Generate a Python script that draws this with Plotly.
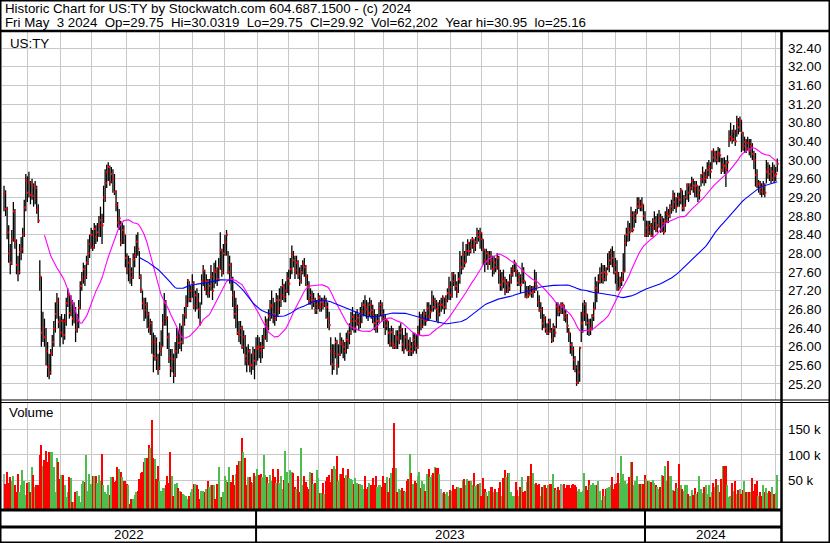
import numpy as np
import pandas as pd
import plotly.graph_objects as go

# ---------------- data ----------------
closes = [
29.30, 28.95, 28.45, 28.00, 27.80, 28.30, 28.90, 28.25, 27.75, 27.60,
28.03, 28.10, 28.40, 28.98, 29.56, 29.30, 29.51, 29.25, 29.45, 29.23,
29.40, 28.93, 28.70, 27.50, 26.30, 26.40, 26.20, 25.90, 25.56, 25.45,
25.86, 26.10, 26.38, 26.70, 26.98, 26.53, 26.30, 26.55, 26.25, 26.54,
26.93, 27.10, 26.72, 26.95, 26.60, 26.80, 26.36, 26.55, 26.83, 27.30,
27.44, 27.66, 27.50, 27.80, 28.00, 28.20, 28.40, 28.13, 28.52, 28.35,
28.45, 28.60, 28.71, 28.60, 29.20, 29.50, 29.74, 29.85, 29.53, 29.70,
29.60, 29.32, 29.04, 28.66, 28.75, 28.23, 28.50, 28.40, 27.90, 27.67,
27.80, 27.60, 27.48, 27.87, 27.95, 28.25, 28.10, 27.50, 27.22, 26.93,
26.78, 26.90, 26.70, 26.40, 26.50, 26.10, 25.80, 26.10, 25.75, 25.54,
25.90, 26.00, 26.50, 26.94, 26.60, 26.20, 25.75, 25.54, 25.73, 25.40,
25.90, 26.20, 26.08, 26.30, 26.10, 26.50, 26.69, 26.90, 27.42, 27.02,
27.20, 27.35, 26.87, 27.10, 27.00, 26.80, 26.51, 27.40, 27.63, 27.24,
27.40, 27.15, 27.30, 27.50, 27.20, 27.65, 27.60, 27.45, 27.70, 28.07,
27.60, 28.00, 28.24, 28.40, 27.60, 27.75, 27.45, 27.10, 26.70, 26.85,
26.30, 26.25, 26.40, 26.00, 26.20, 25.80, 25.70, 25.90, 25.62, 25.60,
25.85, 25.70, 25.95, 26.00, 25.99, 25.92, 26.00, 26.20, 26.50, 26.40,
26.66, 26.86, 26.89, 26.70, 26.60, 27.00, 26.80, 27.00, 27.10, 27.30,
27.07, 27.20, 27.46, 27.35, 27.66, 27.97, 27.85, 27.64, 27.80, 27.55,
27.41, 27.60, 27.77, 27.70, 27.50, 27.30, 27.00, 27.10, 26.95, 27.00,
26.78, 26.90, 27.05, 26.85, 26.95, 26.90, 27.00, 26.85, 26.60, 26.46,
25.90, 25.62, 25.85, 26.10, 25.60, 25.83, 26.10, 26.05, 26.00, 25.90,
26.15, 26.12, 26.30, 26.55, 26.64, 26.40, 26.55, 26.62, 26.50, 26.70,
26.75, 26.90, 26.86, 26.80, 26.72, 26.90, 26.78, 26.70, 26.50, 26.40,
26.55, 26.82, 26.90, 26.70, 26.60, 26.45, 26.55, 26.30, 26.06, 26.31,
26.05, 26.00, 26.20, 26.15, 26.30, 26.38, 26.05, 25.95, 26.20, 26.05,
25.90, 26.00, 25.90, 26.15, 26.05, 25.97, 26.30, 26.61, 26.45, 26.60,
26.70, 26.55, 26.82, 26.65, 26.75, 27.00, 26.85, 26.95, 26.80, 26.70,
26.90, 26.90, 27.05, 26.85, 27.00, 27.15, 27.27, 27.10, 27.55, 27.40,
27.30, 27.18, 27.45, 27.83, 27.70, 27.97, 27.79, 28.05, 28.22, 28.05,
28.15, 28.30, 28.15, 28.25, 28.43, 28.35, 28.44, 28.30, 28.08, 27.85,
28.00, 27.80, 27.95, 27.85, 27.66, 27.80, 27.70, 27.90, 27.60, 27.33,
27.45, 27.40, 27.18, 27.35, 27.25, 27.40, 27.55, 27.65, 27.80, 27.60,
27.37, 27.50, 27.32, 27.63, 27.41, 27.07, 27.18, 27.10, 27.25, 27.15,
27.20, 27.40, 27.30, 26.95, 26.78, 26.80, 26.50, 26.60, 26.39, 26.30,
26.52, 26.33, 26.15, 26.40, 26.30, 26.86, 26.80, 26.75, 26.90, 26.90,
26.70, 26.63, 26.45, 26.30, 26.04, 25.95, 25.72, 25.55, 25.23, 25.45,
25.97, 26.50, 26.70, 26.91, 26.70, 26.51, 26.35, 26.40, 26.66, 26.80,
27.26, 27.20, 27.40, 27.50, 27.58, 27.45, 27.60, 27.55, 27.72, 27.85,
28.00, 27.90, 27.75, 27.60, 27.55, 27.25, 27.40, 27.45, 27.60, 28.22,
28.40, 28.53, 28.45, 28.82, 28.50, 28.75, 28.85, 29.00, 29.10, 29.00,
29.05, 28.80, 28.40, 28.55, 28.45, 28.60, 28.37, 28.55, 28.70, 28.50,
28.60, 28.76, 28.50, 28.65, 28.46, 28.70, 28.85, 28.80, 28.93, 29.00,
29.23, 29.10, 29.00, 29.20, 29.15, 29.35, 28.97, 29.04, 29.20, 29.46,
29.30, 29.40, 29.55, 29.45, 29.37, 29.45, 29.25, 29.35, 29.59, 29.70,
29.60, 29.65, 29.79, 29.85, 29.75, 30.18, 30.05, 30.12, 30.00, 30.15,
30.10, 29.79, 29.90, 29.87, 29.80, 29.95, 30.43, 30.50, 30.45, 30.61,
30.40, 30.79, 30.70, 30.85, 30.59, 30.30, 30.39, 30.25, 30.36, 30.20,
30.30, 30.13, 30.00, 29.68, 29.48, 29.50, 29.40, 29.32, 29.45, 29.30,
29.75, 29.80, 29.70, 29.61, 29.75, 29.66, 29.70, 29.92,
]

highs = [
29.45, 29.35, 29.00, 28.60, 28.20, 28.50, 29.10, 28.95, 28.30, 27.95,
28.20, 28.35, 28.55, 29.15, 29.70, 29.65, 29.75, 29.55, 29.60, 29.50,
29.55, 29.45, 29.05, 27.85, 27.50, 26.75, 26.60, 26.40, 26.10, 25.85,
25.95, 26.25, 26.55, 26.95, 27.15, 27.05, 26.65, 26.70, 26.60, 26.70,
27.05, 27.25, 27.15, 27.10, 27.00, 26.95, 26.85, 26.70, 27.00, 27.40,
27.60, 27.80, 27.75, 27.95, 28.30, 28.40, 28.55, 28.50, 28.65, 28.60,
28.65, 28.80, 29.00, 28.85, 29.45, 29.80, 29.90, 29.95, 29.88, 29.85,
29.80, 29.70, 29.35, 29.10, 28.95, 28.70, 28.65, 28.60, 28.40, 28.00,
27.95, 27.90, 27.70, 28.00, 28.15, 28.40, 28.45, 28.05, 27.55, 27.20,
27.05, 27.05, 26.95, 26.75, 26.60, 26.55, 26.30, 26.25, 26.20, 25.85,
26.10, 26.35, 26.70, 27.15, 27.00, 26.65, 26.30, 25.95, 25.95, 25.85,
26.10, 26.40, 26.35, 26.50, 26.45, 26.70, 26.85, 27.10, 27.45, 27.40,
27.30, 27.55, 27.40, 27.20, 27.25, 27.15, 26.95, 27.55, 27.75, 27.65,
27.55, 27.45, 27.45, 27.75, 27.60, 27.80, 27.85, 27.70, 27.90, 28.45,
28.10, 28.20, 28.40, 28.50, 28.05, 27.95, 27.80, 27.50, 27.20, 27.05,
26.90, 26.55, 26.55, 26.45, 26.35, 26.25, 26.00, 26.05, 25.95, 25.85,
26.00, 25.95, 26.20, 26.25, 26.20, 26.10, 26.25, 26.40, 26.65, 26.60,
26.80, 27.00, 27.20, 27.05, 26.95, 27.15, 27.10, 27.25, 27.30, 27.45,
27.35, 27.40, 27.60, 27.65, 27.90, 28.17, 28.05, 27.95, 27.95, 27.85,
27.70, 27.75, 27.85, 27.90, 27.75, 27.55, 27.40, 27.25, 27.20, 27.15,
27.05, 27.00, 27.15, 27.10, 27.05, 27.05, 27.10, 27.05, 26.95, 26.75,
26.20, 26.05, 26.05, 26.20, 26.15, 26.05, 26.30, 26.20, 26.15, 26.10,
26.30, 26.35, 26.50, 26.75, 26.85, 26.70, 26.75, 26.80, 26.70, 26.85,
26.95, 27.00, 27.10, 27.00, 26.95, 27.05, 27.00, 26.90, 26.80, 26.70,
26.70, 26.95, 27.00, 26.95, 26.80, 26.70, 26.60, 26.55, 26.40, 26.45,
26.40, 26.25, 26.35, 26.35, 26.45, 26.50, 26.40, 26.25, 26.40, 26.30,
26.15, 26.20, 26.10, 26.30, 26.30, 26.25, 26.45, 26.75, 26.70, 26.75,
26.80, 26.75, 26.95, 26.95, 26.90, 27.20, 27.10, 27.05, 27.00, 26.95,
27.00, 27.05, 27.10, 27.05, 27.10, 27.25, 27.50, 27.40, 27.60, 27.60,
27.55, 27.40, 27.60, 28.05, 27.95, 28.25, 28.05, 28.20, 28.30, 28.25,
28.30, 28.35, 28.30, 28.35, 28.55, 28.50, 28.55, 28.45, 28.30, 28.10,
28.10, 28.05, 28.05, 28.05, 27.95, 27.95, 27.90, 28.00, 27.95, 27.65,
27.60, 27.65, 27.50, 27.45, 27.40, 27.55, 27.70, 27.75, 27.86, 27.80,
27.65, 27.60, 27.55, 27.80, 27.70, 27.40, 27.30, 27.30, 27.32, 27.30,
27.30, 27.65, 27.60, 27.20, 27.10, 26.95, 26.85, 26.70, 26.65, 26.50,
26.60, 26.60, 26.40, 26.50, 26.45, 26.95, 26.95, 26.90, 26.95, 26.95,
26.90, 26.80, 26.70, 26.40, 26.30, 26.10, 26.00, 25.80, 25.60, 25.70,
26.00, 26.75, 26.94, 27.00, 26.95, 26.70, 26.60, 26.60, 26.70, 26.95,
27.50, 27.40, 27.55, 27.70, 27.79, 27.75, 27.75, 27.70, 28.00, 28.05,
28.10, 28.15, 28.05, 27.90, 27.85, 27.60, 27.50, 27.60, 28.00, 28.40,
28.55, 28.70, 28.65, 29.00, 28.90, 28.90, 28.95, 29.20, 29.20, 29.15,
29.20, 29.05, 28.90, 28.70, 28.70, 28.70, 28.65, 28.75, 28.90, 28.80,
28.85, 28.93, 28.85, 28.80, 28.75, 28.90, 29.00, 28.95, 29.05, 29.15,
29.35, 29.30, 29.20, 29.30, 29.30, 29.40, 29.35, 29.25, 29.35, 29.50,
29.50, 29.50, 29.64, 29.60, 29.55, 29.55, 29.45, 29.45, 29.70, 29.86,
29.75, 29.80, 29.95, 30.00, 29.95, 30.20, 30.25, 30.20, 30.20, 30.28,
30.25, 30.05, 30.05, 30.06, 30.00, 30.10, 30.64, 30.80, 30.65, 30.75,
30.65, 30.95, 30.90, 30.93, 30.86, 30.60, 30.50, 30.45, 30.50, 30.45,
30.45, 30.36, 30.20, 30.15, 29.80, 29.57, 29.55, 29.50, 29.55, 29.50,
30.00, 29.95, 29.90, 29.85, 29.95, 29.90, 29.85, 30.03,
]

lows = [
28.90, 28.80, 28.30, 27.80, 27.55, 27.75, 28.25, 28.10, 27.55, 27.40,
27.55, 27.85, 28.00, 28.35, 28.90, 29.10, 29.20, 29.05, 29.15, 29.00,
29.05, 28.85, 28.65, 27.20, 26.00, 26.10, 26.00, 25.60, 25.35, 25.30,
25.40, 25.80, 26.00, 26.30, 26.60, 26.40, 26.00, 26.20, 26.05, 26.15,
26.45, 26.85, 26.60, 26.65, 26.45, 26.50, 26.10, 26.30, 26.40, 26.80,
27.20, 27.35, 27.30, 27.45, 27.75, 27.90, 28.10, 28.05, 28.10, 28.20,
28.25, 28.35, 28.35, 28.20, 28.65, 29.10, 29.40, 29.55, 29.45, 29.50,
29.30, 29.25, 28.90, 28.55, 28.50, 28.15, 28.20, 28.20, 27.70, 27.55,
27.40, 27.35, 27.30, 27.45, 27.70, 27.90, 27.95, 27.45, 27.15, 26.80,
26.55, 26.60, 26.40, 26.30, 26.25, 25.85, 25.45, 25.70, 25.50, 25.40,
25.50, 25.80, 26.00, 26.45, 26.45, 25.95, 25.65, 25.35, 25.45, 25.22,
25.35, 25.75, 25.85, 25.95, 25.90, 26.05, 26.45, 26.60, 26.85, 26.95,
26.95, 27.05, 26.80, 26.75, 26.80, 26.60, 26.45, 26.90, 27.30, 27.20,
27.10, 27.05, 27.05, 27.20, 27.00, 27.25, 27.35, 27.30, 27.40, 27.65,
27.50, 27.55, 27.95, 27.95, 27.55, 27.35, 27.20, 26.85, 26.60, 26.40,
26.25, 26.10, 26.05, 25.95, 25.85, 25.60, 25.45, 25.60, 25.45, 25.40,
25.50, 25.30, 25.60, 25.70, 25.75, 25.65, 25.75, 25.95, 26.15, 26.10,
26.35, 26.55, 26.60, 26.50, 26.45, 26.55, 26.65, 26.70, 26.85, 27.00,
26.95, 26.95, 27.15, 27.10, 27.45, 27.55, 27.70, 27.45, 27.55, 27.45,
27.30, 27.35, 27.55, 27.50, 27.30, 27.00, 26.90, 26.90, 26.80, 26.85,
26.70, 26.70, 26.80, 26.75, 26.75, 26.80, 26.85, 26.60, 26.40, 26.35,
25.60, 25.40, 25.50, 25.75, 25.40, 25.55, 25.80, 25.85, 25.75, 25.70,
25.85, 25.95, 26.05, 26.25, 26.35, 26.30, 26.30, 26.45, 26.35, 26.40,
26.50, 26.65, 26.65, 26.60, 26.55, 26.65, 26.60, 26.50, 26.35, 26.30,
26.30, 26.50, 26.65, 26.55, 26.40, 26.25, 26.35, 26.05, 26.00, 26.00,
25.95, 25.95, 25.95, 25.95, 26.05, 26.15, 25.90, 25.85, 25.95, 25.90,
25.80, 25.80, 25.80, 25.85, 25.90, 25.85, 25.95, 26.25, 26.35, 26.40,
26.45, 26.45, 26.55, 26.55, 26.60, 26.75, 26.75, 26.80, 26.55, 26.50,
26.65, 26.75, 26.80, 26.70, 26.80, 26.95, 27.00, 27.00, 27.05, 27.30,
27.20, 27.05, 27.15, 27.35, 27.55, 27.65, 27.70, 27.80, 27.95, 27.95,
28.00, 28.10, 28.00, 28.05, 28.20, 28.25, 28.10, 28.05, 27.75, 27.60,
27.75, 27.65, 27.75, 27.65, 27.50, 27.55, 27.60, 27.65, 27.35, 27.20,
27.20, 27.25, 27.10, 27.15, 27.15, 27.20, 27.35, 27.50, 27.60, 27.50,
27.30, 27.30, 27.15, 27.35, 27.35, 27.05, 27.03, 27.05, 27.10, 27.05,
27.05, 27.15, 27.20, 26.85, 26.75, 26.60, 26.35, 26.40, 26.30, 26.25,
26.25, 26.30, 26.08, 26.10, 26.20, 26.40, 26.65, 26.65, 26.70, 26.70,
26.55, 26.52, 26.30, 26.10, 25.85, 25.80, 25.50, 25.45, 25.16, 25.20,
25.25, 26.10, 26.30, 26.55, 26.45, 26.25, 26.23, 26.25, 26.35, 26.55,
26.80, 26.95, 27.15, 27.35, 27.36, 27.35, 27.40, 27.40, 27.64, 27.60,
27.75, 27.70, 27.55, 27.35, 27.20, 27.20, 27.25, 27.30, 27.40, 27.60,
28.15, 28.25, 28.26, 28.45, 28.45, 28.55, 28.65, 28.85, 28.95, 28.90,
28.90, 28.70, 28.35, 28.35, 28.35, 28.40, 28.35, 28.35, 28.50, 28.45,
28.45, 28.55, 28.44, 28.45, 28.40, 28.45, 28.65, 28.65, 28.75, 28.85,
28.90, 28.95, 28.87, 29.00, 29.00, 29.05, 28.90, 28.90, 29.00, 29.15,
29.10, 29.25, 29.35, 29.30, 29.20, 29.20, 29.10, 29.15, 29.43, 29.50,
29.45, 29.50, 29.60, 29.65, 29.60, 29.80, 29.95, 29.95, 29.90, 29.95,
29.95, 29.70, 29.75, 29.70, 29.42, 29.75, 30.28, 30.40, 30.35, 30.40,
30.30, 30.50, 30.55, 30.60, 30.17, 30.20, 30.15, 30.15, 30.20, 30.10,
30.05, 30.00, 29.80, 29.43, 29.40, 29.30, 29.25, 29.20, 29.25, 29.20,
29.50, 29.60, 29.55, 29.50, 29.55, 29.50, 29.55, 29.75,
]

volumes_k = [
64, 45, 69, 47, 59, 51, 61, 42, 29, 64,
29, 42, 71, 50, 24, 47, 48, 29, 77, 62,
40, 42, 43, 100, 120, 80, 92, 109, 87, 107,
106, 107, 77, 29, 96, 87, 55, 62, 62, 43,
19, 30, 58, 56, 10, 11, 29, 32, 22, 10,
45, 50, 48, 100, 31, 64, 45, 61, 61, 60,
47, 62, 50, 103, 42, 29, 26, 43, 24, 58,
58, 48, 51, 77, 73, 69, 58, 51, 50, 45,
42, 6, 16, 16, 24, 30, 32, 55, 66, 69,
87, 96, 96, 120, 115, 169, 96, 93, 55, 80,
51, 32, 37, 37, 43, 61, 47, 106, 61, 22,
45, 47, 38, 32, 29, 26, 24, 22, 16, 22,
29, 35, 45, 45, 42, 35, 16, 32, 32, 30,
35, 50, 40, 42, 43, 43, 16, 45, 77, 19,
19, 29, 60, 52, 48, 77, 48, 62, 42, 64,
81, 90, 90, 133, 107, 96, 42, 59, 58, 48,
47, 67, 61, 74, 62, 64, 58, 100, 62, 58,
47, 62, 51, 73, 58, 47, 73, 47, 61, 35,
52, 109, 69, 47, 71, 69, 66, 40, 35, 61,
29, 114, 43, 60, 48, 39, 35, 69, 67, 45,
47, 71, 56, 28, 28, 47, 25, 51, 58, 62,
48, 74, 80, 73, 98, 50, 64, 64, 75, 56,
62, 74, 56, 55, 53, 44, 56, 47, 45, 45,
43, 35, 61, 35, 39, 47, 43, 56, 43, 61,
40, 42, 43, 39, 61, 47, 58, 30, 56, 66,
75, 162, 75, 29, 35, 34, 37, 32, 29, 51,
55, 103, 67, 45, 50, 47, 61, 69, 37, 50,
45, 32, 64, 73, 58, 62, 66, 77, 76, 76,
64, 35, 28, 30, 26, 29, 21, 34, 32, 43,
35, 40, 39, 37, 37, 53, 55, 42, 55, 50,
50, 42, 67, 41, 43, 45, 47, 22, 57, 36,
30, 22, 32, 39, 40, 30, 35, 29, 37, 48,
22, 56, 71, 58, 67, 67, 29, 22, 22, 48,
33, 22, 39, 58, 29, 32, 48, 61, 60, 83,
66, 44, 47, 43, 45, 22, 39, 42, 43, 37,
42, 45, 45, 64, 38, 33, 40, 34, 45, 43,
45, 37, 43, 42, 37, 42, 45, 43, 40, 32,
35, 30, 32, 67, 41, 34, 53, 42, 43, 47,
42, 42, 51, 32, 13, 36, 22, 35, 37, 40,
42, 58, 35, 45, 47, 67, 47, 98, 64, 50,
45, 47, 58, 88, 87, 42, 50, 61, 44, 45,
45, 45, 62, 55, 50, 51, 48, 52, 47, 43,
39, 35, 40, 62, 60, 79, 50, 90, 60, 61,
34, 32, 47, 37, 83, 43, 35, 32, 43, 43,
26, 22, 33, 24, 37, 26, 29, 61, 35, 28,
39, 42, 26, 42, 19, 30, 47, 39, 55, 42,
29, 55, 80, 80, 80, 42, 19, 21, 47, 32,
50, 26, 34, 35, 26, 34, 51, 29, 29, 30,
29, 56, 32, 44, 51, 22, 29, 22, 43, 29,
37, 28, 31, 29, 39, 26, 28, 62,
]

exchange_holidays = [
    "2022-05-30", "2022-06-20", "2022-07-04", "2022-09-05", "2022-11-24", "2022-12-26",
    "2023-01-02", "2023-01-16", "2023-02-20", "2023-04-07", "2023-05-29", "2023-06-19",
    "2023-07-04", "2023-09-04", "2023-11-23", "2023-12-25",
    "2024-01-01", "2024-01-15", "2024-02-19", "2024-03-29",
]
first_day, last_day = "2022-05-11", "2024-05-03"

price_ticks = [25.2, 25.6, 26.0, 26.4, 26.8, 27.2, 27.6, 28.0, 28.4, 28.8,
               29.2, 29.6, 30.0, 30.4, 30.8, 31.2, 31.6, 32.0, 32.4]
vol_ticks = [50000, 100000, 150000]
vol_tick_labels = ["50 k", "100 k", "150 k"]

header_line1 = "Historic Chart for US:TY by Stockwatch.com 604.687.1500 - (c) 2024"
header_line2 = ("Fri May\u00a0\u00a03 2024\u00a0\u00a0Op=29.75\u00a0\u00a0Hi=30.0319\u00a0\u00a0"
                "Lo=29.75\u00a0\u00a0Cl=29.92\u00a0\u00a0Vol=62,202\u00a0\u00a0Year hi=30.95\u00a0\u00a0lo=25.16")
symbol = "US:TY"
ma_short_len, ma_long_len = 27, 88

# ---------------- derived ----------------
dates = pd.bdate_range(first_day, last_day)
dates = dates[~dates.isin(pd.to_datetime(exchange_holidays))]
N = len(closes)
assert len(dates) == N == len(highs) == len(lows) == len(volumes_k), (
    len(dates), N, len(highs), len(lows), len(volumes_k))

idx = np.arange(N)
close_s = pd.Series(closes)
ma_s = close_s.rolling(ma_short_len).mean()
ma_l = close_s.rolling(ma_long_len).mean()

bar_x, bar_y = [], []
for i in range(N):
    bar_x += [i, i, None]
    bar_y += [lows[i], highs[i], None]

GREEN, RED, GREY = "#4dbd4d", "#ff0000", "#a8a8a8"
vol_colors = []
for i in range(N):
    if i == 0 or closes[i] == closes[i - 1]:
        vol_colors.append(GREY)
    elif closes[i] > closes[i - 1]:
        vol_colors.append(GREEN)
    else:
        vol_colors.append(RED)

periods = dates.to_period("M")
month_starts = [i for i in range(1, N) if periods[i] != periods[i - 1]]
GRID_SHIFT = 1.0
grid_x = [m + GRID_SHIFT for m in month_starts]

years = dates.year
year_info = []
for y in sorted(set(years)):
    ii = np.where(years == y)[0]
    year_info.append((str(y), ii[0], ii[-1]))

# ---------------- geometry (pixels of the 830x543 canvas) ----------------
W, H = 830, 543
def px(x): return x / W
def py(y): return 1 - y / H

VOL_MIN, VOL_MAX = -4400, 201300
x_range = [-1.3, N + 1.4]
GRID = "#c8c8c8"
FONT = "Liberation Sans, Arial, sans-serif"
FS = 13.3

fig = go.Figure()
fig.add_trace(go.Scatter(x=bar_x, y=bar_y, mode="lines",
                         line=dict(color="black", width=1.3), hoverinfo="skip"))
fig.add_trace(go.Scatter(x=idx + 0.35, y=closes, mode="markers",
                         marker=dict(symbol="square", size=2, color="#ff0000", line=dict(width=0)),
                         hoverinfo="skip"))
fig.add_trace(go.Scatter(x=idx, y=ma_s, mode="lines", line=dict(color="#ff00ff", width=1.1)))
fig.add_trace(go.Scatter(x=idx, y=ma_l, mode="lines", line=dict(color="#0000ff", width=1.1)))
fig.add_trace(go.Bar(x=idx, y=[v * 1000 - VOL_MIN for v in volumes_k], base=VOL_MIN,
                     marker=dict(color=vol_colors, line=dict(width=0)), width=0.9,
                     xaxis="x2", yaxis="y2"))

axis_common = dict(showline=False, zeroline=False, ticks="", fixedrange=True)
fig.update_layout(
    width=W, height=H, autosize=False,
    margin=dict(l=0, r=0, t=0, b=0, pad=0),
    paper_bgcolor="white", plot_bgcolor="white", showlegend=False,
    font=dict(family=FONT, size=FS, color="black"),
    bargap=0,
    xaxis=dict(domain=[px(2), px(781)], range=x_range, tickvals=grid_x, showticklabels=False,
               showgrid=True, gridcolor=GRID, gridwidth=1, anchor="y", **axis_common),
    yaxis=dict(domain=[py(400), py(32)], range=[24.857, 32.743], side="right", anchor="x",
               tickvals=price_ticks, ticktext=[f"{v:.2f}" for v in price_ticks],
               showgrid=True, gridcolor=GRID, gridwidth=1, ticklabelstandoff=6,
               tickfont=dict(size=FS, color="black"), **axis_common),
    xaxis2=dict(domain=[px(2), px(781)], range=x_range, tickvals=grid_x, showticklabels=False,
                showgrid=True, gridcolor=GRID, gridwidth=1, anchor="y2", **axis_common),
    yaxis2=dict(domain=[py(509), py(402.5)], range=[VOL_MIN, VOL_MAX], side="right", anchor="x2",
                tickvals=vol_ticks, ticktext=vol_tick_labels,
                showgrid=True, gridcolor=GRID, gridwidth=1, ticklabelstandoff=6,
                tickfont=dict(size=FS, color="black"), **axis_common),
)

def hline(ypx, x0, x1, w):
    return dict(type="line", xref="paper", yref="paper", x0=px(x0), x1=px(x1),
                y0=py(ypx), y1=py(ypx), line=dict(color="black", width=w), layer="above")

def vline(xpx, y0, y1, w):
    return dict(type="line", xref="paper", yref="paper", x0=px(xpx), x1=px(xpx),
                y0=py(y0), y1=py(y1), line=dict(color="black", width=w), layer="above")

shapes = [
    dict(type="rect", xref="paper", yref="paper", x0=0, x1=1, y0=0, y1=1,
         line=dict(color="black", width=3), layer="above"),
    hline(31, 0, W, 2.5),
    vline(781.5, 31, H, 2.5),
    hline(400, 0, W, 1.2),
    hline(402.5, 0, W, 1.2),
    hline(510, 0, 781.5, 3),
    hline(527, 0, 781.5, 3),
]
for name, s, e in year_info[1:]:
    shapes.append(dict(type="line", xref="x", yref="paper", x0=s, x1=s,
                       y0=py(510), y1=py(H), line=dict(color="black", width=2), layer="above"))
fig.update_layout(shapes=shapes)

ann = [
    dict(text=header_line1, x=px(3), y=py(8.5), xref="paper", yref="paper",
         xanchor="left", yanchor="middle", showarrow=False, font=dict(size=FS)),
    dict(text=header_line2, x=px(3), y=py(22), xref="paper", yref="paper",
         xanchor="left", yanchor="middle", showarrow=False, font=dict(size=FS)),
    dict(text=symbol, x=px(8), y=py(43), xref="paper", yref="paper",
         xanchor="left", yanchor="middle", showarrow=False, font=dict(size=FS)),
    dict(text="Volume", x=px(7), y=py(413), xref="paper", yref="paper",
         xanchor="left", yanchor="middle", showarrow=False, font=dict(size=FS)),
]
for name, s, e in year_info:
    ann.append(dict(text=name, x=(s + e) / 2, y=py(534.5), xref="x", yref="paper",
                    xanchor="center", yanchor="middle", showarrow=False, font=dict(size=FS)))
fig.update_layout(annotations=ann)

fig.write_html("out.html", config={"displayModeBar": False},
               post_script="document.body.style.margin='0';document.body.style.overflow='hidden';")
